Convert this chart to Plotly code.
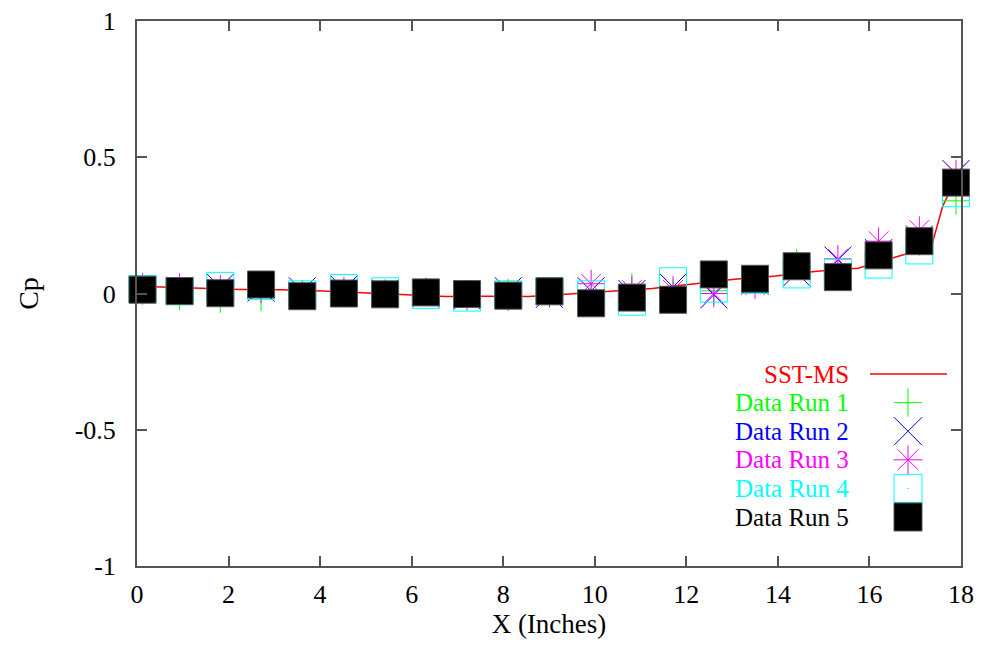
import plotly.graph_objects as go

# ---------------- data ----------------
x_taps = [0.12, 0.93, 1.82, 2.71, 3.61, 4.52, 5.42, 6.31, 7.21, 8.11, 9.01,
          9.92, 10.81, 11.71, 12.6, 13.5, 14.41, 15.31, 16.2, 17.09, 17.89]

run1 = [0.010, -0.010, -0.019, -0.013, -0.008, 0.000, 0.000, 0.005, -0.002, 0.002, 0.000,
        -0.013, 0.023, 0.000, 0.010, 0.050, 0.112, 0.065, 0.140, 0.190, 0.340]
run2 = [0.015, 0.012, 0.023, 0.020, 0.010, 0.016, 0.002, 0.000, -0.010, 0.010, -0.003,
        0.010, 0.000, 0.024, -0.005, 0.045, 0.076, 0.123, 0.150, 0.200, 0.440]
run3 = [0.024, 0.023, 0.018, 0.015, -0.002, 0.010, 0.000, 0.007, -0.012, -0.013, 0.000,
        0.036, 0.013, 0.013, 0.000, 0.030, 0.100, 0.127, 0.192, 0.233, 0.440]
run4 = [0.016, 0.008, 0.028, 0.027, -0.003, 0.020, 0.008, -0.005, -0.015, -0.003, 0.009,
        -0.003, -0.030, 0.045, 0.018, 0.050, 0.070, 0.076, 0.106, 0.158, 0.368]
run5 = [0.014, 0.009, 0.001, 0.033, -0.010, 0.000, -0.003, 0.004, -0.002, -0.008, 0.008,
        -0.036, -0.015, -0.023, 0.070, 0.054, 0.100, 0.060, 0.140, 0.192, 0.407]

x_cfd = [0.0, 0.5, 1.4, 2.25, 3.15, 4.05, 4.95, 5.85, 6.75, 7.65, 8.55, 9.45, 10.35,
         11.25, 12.15, 13.05, 13.95, 14.85, 15.75, 16.5, 16.8, 17.1, 17.35, 17.6, 17.8, 18.0]
cp_cfd = [0.027, 0.025, 0.019, 0.015, 0.014, 0.009, 0.003, -0.004, -0.011, -0.010, -0.011,
          -0.002, 0.007, 0.018, 0.035, 0.052, 0.064, 0.082, 0.093, 0.130, 0.147, 0.160,
          0.170, 0.320, 0.390, 0.430]

series_names = ["SST-MS", "Data Run 1", "Data Run 2", "Data Run 3", "Data Run 4", "Data Run 5"]

x_tickvals = [0, 2, 4, 6, 8, 10, 12, 14, 16, 18]
y_tickvals = [-1, -0.5, 0, 0.5, 1]
y_ticktext = ["-1", "-0.5", "0", "0.5", "1"]

# ---------------- styles ----------------
FONT = "Liberation Serif"
colors = ["#ff0000", "#00ff00", "#0000ff", "#ff00ff", "#00ffff", "#000000"]
symbols = [None, "cross-thin", "x-thin", "asterisk", "square-open-dot", "square"]
sizes = [None, 20, 27, 23, 27, 27]

fig = go.Figure()

# CFD line
fig.add_trace(go.Scatter(x=x_cfd, y=cp_cfd, mode="lines",
                         line=dict(color=colors[0], width=1.5),
                         showlegend=False, hoverinfo="skip"))

runs = [run1, run2, run3, run4, run5]
for i, r in enumerate(runs, start=1):
    lc = "#555555" if i == 5 else colors[i]
    fig.add_trace(go.Scatter(
        x=x_taps, y=r, mode="markers", showlegend=False, cliponaxis=False,
        marker=dict(symbol=symbols[i], size=sizes[i], color=colors[i],
                    line=dict(color=lc, width=1))))

# ---------------- custom legend (gnuplot style: text right, sample left) ----
leg_y = [0.3523, 0.2998, 0.2473, 0.1949, 0.1424, 0.0899]
leg_text_x = 0.8653
leg_sym_x = 0.9357

fig.add_trace(go.Scatter(x=[0.8896, 0.983], y=[leg_y[0], leg_y[0]], mode="lines",
                         line=dict(color=colors[0], width=1.5), xaxis="x2", yaxis="y2",
                         showlegend=False, hoverinfo="skip"))
for i in range(1, 6):
    lc = "#555555" if i == 5 else colors[i]
    sz = 28 if i != 1 else 20
    if i == 3:
        sz = 24
    fig.add_trace(go.Scatter(
        x=[leg_sym_x], y=[leg_y[i]], mode="markers", xaxis="x2", yaxis="y2",
        showlegend=False, hoverinfo="skip",
        marker=dict(symbol=symbols[i], size=sz, color=colors[i],
                    line=dict(color=lc, width=1))))

annotations = []
for i, name in enumerate(series_names):
    annotations.append(dict(x=leg_text_x, y=leg_y[i], xref="x2", yref="y2",
                            text=name, showarrow=False, xanchor="right", yanchor="middle",
                            borderpad=0,
                            font=dict(family=FONT, size=25, color=colors[i])))

axis_common = dict(showline=True, linecolor="#555555", linewidth=2, mirror="ticks",
                   ticks="inside", ticklen=10, tickwidth=1.5, tickcolor="#555555",
                   showgrid=False, zeroline=False, automargin=False,
                   tickfont=dict(family=FONT, size=26, color="black"))

fig.update_layout(
    width=981, height=656,
    margin=dict(l=137, r=20, t=21, b=90),
    paper_bgcolor="white", plot_bgcolor="white",
    font=dict(family=FONT),
    xaxis=dict(range=[0, 18], tickvals=x_tickvals, ticklabelstandoff=4,
               title=dict(text="X (Inches)", font=dict(family=FONT, size=27, color="black"),
                          standoff=6),
               **axis_common),
    yaxis=dict(range=[-1, 1], tickvals=y_tickvals, ticktext=y_ticktext, ticklabelstandoff=14,
               title=dict(text="Cp", font=dict(family=FONT, size=28, color="black"),
                          standoff=28),
               **axis_common),
    xaxis2=dict(range=[0, 1], overlaying="x", visible=False, fixedrange=True),
    yaxis2=dict(range=[0, 1], overlaying="y", visible=False, fixedrange=True),
    annotations=annotations,
    showlegend=False,
)

fig.write_html("out.html")
